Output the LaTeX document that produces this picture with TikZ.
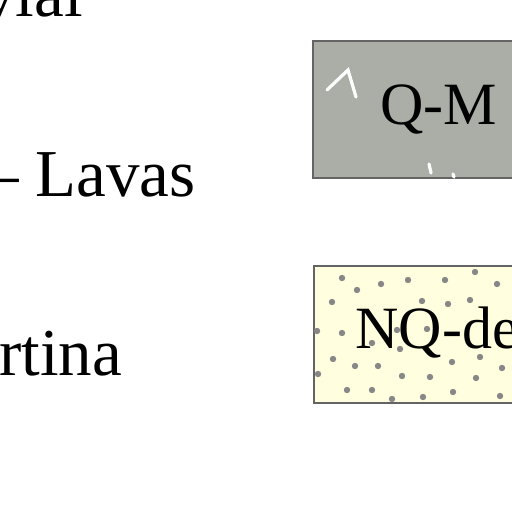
\documentclass[tikz,border=0pt]{standalone}
\usepackage{fontspec}
\setmainfont{Liberation Serif}
\usetikzlibrary{positioning}

\definecolor{qmgray}{RGB}{170,174,166}
\definecolor{nqcream}{RGB}{255,255,224}
\definecolor{edgegray}{RGB}{100,100,100}
\definecolor{dotgray}{RGB}{135,135,135}

\begin{document}
\begin{tikzpicture}[
  x=0.5pt, y=-0.5pt,
  lbl/.style={
    anchor=base west, inner sep=0pt,
    font=\fontsize{33.5}{40}\selectfont
  },
  unit/.style={
    rectangle, draw=edgegray, line width=1pt,
    anchor=north west, inner sep=0pt,
    minimum width=126.5pt, minimum height=68.5pt
  },
  unitlbl/.style={
    anchor=base west, inner sep=0pt,
    font=\fontsize{30}{36}\selectfont
  },
  volcmark/.style={white, line width=1.6pt, line cap=round}
]
  \useasboundingbox (0,0) rectangle (512,512);
  \clip (0,0) rectangle (512,512);

  % left column labels
  \node[lbl] (lblvial)  at (-18,17)  {vial};
  \node[lbl] (lbllavas) at (-15,197) {– Lavas};
  \node[lbl] (lblrtina) at (-1,375)  {rtina};

  % volcanic unit
  \node[unit, fill=qmgray] (boxqm) at (312,40) {};
  \draw[volcmark] (327,90) -- (348,70) -- (356,97);
  \draw[volcmark] (429,164) -- (431,173);
  \draw[volcmark] (453,174) -- (454,177);
  \node[unitlbl] (lblqm) at (380,125) {Q-M};

  % dotted deposit unit
  \node[unit, fill=nqcream] (boxnq) at (313,265) {};
  \foreach \px/\py in {342/278, 357/290, 381/284, 408/280, 445/280,
                       475/272, 497/284, 332/302, 422/301, 448/304,
                       470/300, 342/333, 397/330, 427/329, 317/331,
                       372/343, 333/359, 355/366, 378/366, 400/349,
                       452/362, 480/357, 502/368, 318/374, 402/376,
                       430/377, 476/378, 347/390, 372/390, 453/392,
                       423/397, 500/396, 392/399}
    \fill[dotgray] (\px,\py) circle (1.6pt);
  \node[unitlbl] (lblnq) at (355,348) {NQ-de};
\end{tikzpicture}
\end{document}
